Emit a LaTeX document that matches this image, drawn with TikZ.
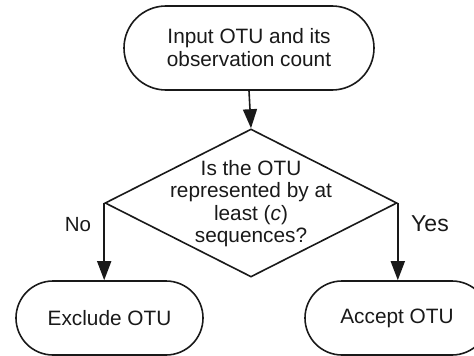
\documentclass[tikz,border=0pt]{standalone}
\usepackage{fontspec}
\setmainfont{Liberation Sans}
\usetikzlibrary{shapes.geometric,arrows.meta}
\begin{document}
\begin{tikzpicture}[x=1pt,y=-1pt,
  every node/.style={text=black!90},
  terminal/.style={draw=black!90, line width=1.6pt, rounded corners=#1,
    inner sep=0pt, align=center, font=\fontsize{20.8}{23}\selectfont},
  decision/.style={draw=black!90, line width=1.6pt, shape=diamond,
    inner sep=0pt, minimum width=292pt, minimum height=148pt},
  flow/.style={draw=black!90, line width=1.6pt,
    -{Triangle[length=19pt,width=14pt]}}
]
\useasboundingbox (0,0) rectangle (474,356);

% start terminal
\node[terminal=42pt, minimum width=250pt, minimum height=84pt] (start) at (249,48)
  {Input OTU and its\\observation count};

% decision diamond and its text
\node[decision] (dec) at (251,203) {};
\node[align=center, inner sep=0pt, font=\fontsize{20.8}{22.4}\selectfont] (dectext) at (251,203.5)
  {Is the OTU\\represented by at\\least (\textit{c})\\sequences?};

% outcome terminals
\node[terminal=37pt, minimum width=187pt, minimum height=74pt] (excl) at (109.5,318)
  {Exclude OTU};
\node[terminal=37pt, minimum width=184pt, minimum height=74pt] (acc) at (397,318)
  {Accept OTU};

% connectors
\draw[flow] (start.south) -- (dec.north);
\coordinate (noend) at (dec.west |- excl.north);
\coordinate (yesend) at (dec.east |- acc.north);
\draw[flow] (dec.west) -- (noend);
\draw[flow] (dec.east) -- (yesend);

% branch labels
\node[font=\fontsize{20.5}{22}\selectfont, inner sep=0pt] (nolab) at (78,225) {No};
\node[font=\fontsize{23}{24}\selectfont, inner sep=0pt] (yeslab) at (430,224) {Yes};
\end{tikzpicture}
\end{document}
